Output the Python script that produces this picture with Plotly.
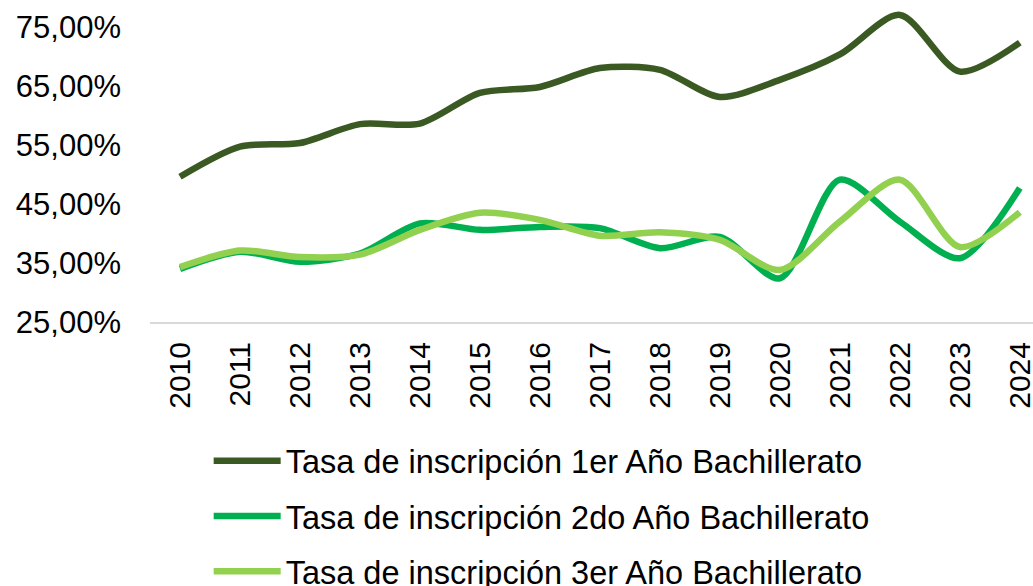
import plotly.graph_objects as go

years = [str(y) for y in range(2010, 2025)]
tasa_1er = [49.6, 54.7, 55.3, 58.5, 58.6, 63.8, 64.8, 68.0, 67.7, 63.1, 66.0, 70.3, 77.0, 67.4, 72.3]
tasa_2do = [34.0, 36.9, 35.2, 36.6, 41.7, 40.6, 41.1, 40.9, 37.5, 39.4, 32.4, 49.1, 42.0, 35.8, 47.7]
tasa_3er = [34.3, 37.1, 36.0, 36.4, 40.6, 43.5, 42.3, 39.6, 40.2, 38.9, 33.8, 42.0, 49.1, 37.7, 43.6]
names = ["Tasa de inscripción 1er Año Bachillerato",
         "Tasa de inscripción 2do Año Bachillerato",
         "Tasa de inscripción 3er Año Bachillerato"]
colors = ["#3B5A23", "#00B050", "#92D050"]
tick_vals = [25, 35, 45, 55, 65, 75]
tick_text = ["25,00%", "35,00%", "45,00%", "55,00%", "65,00%", "75,00%"]

FONT = "Liberation Sans, Arial, sans-serif"
fig = go.Figure()
for i, (vals, name, col) in enumerate(zip([tasa_1er, tasa_2do, tasa_3er], names, colors)):
    fig.add_trace(go.Scatter(
        x=years, y=vals, name=name, mode="lines",
        line=dict(color=col, width=6.5, shape="spline", smoothing=0.8),
        legendgroup=f"g{i}",
    ))

fig.update_layout(
    width=1033, height=586,
    margin=dict(l=150, r=0, t=9, b=264, autoexpand=False),
    plot_bgcolor="white", paper_bgcolor="white",
    font=dict(family=FONT, size=30, color="black"),
    showlegend=True,
    legend=dict(
        xref="container", yref="container",
        x=0.202, y=0.261, xanchor="left", yanchor="top",
        font=dict(family=FONT, size=32.5, color="black"),
        tracegroupgap=10,
        itemwidth=67,
        bgcolor="rgba(0,0,0,0)",
    ),
    xaxis=dict(
        type="category",
        range=[-0.5, 14.22],
        showgrid=False, zeroline=False,
        showline=True, linecolor="#D9D9D9", linewidth=2,
        ticks="", tickangle=-90,
        ticklabelstandoff=6,
        tickfont=dict(family=FONT, size=30, color="black"),
    ),
    yaxis=dict(
        range=[25, 78],
        showgrid=False, zeroline=False, showline=False,
        tickvals=tick_vals, ticktext=tick_text,
        ticks="", ticklabelstandoff=28,
        tickfont=dict(family=FONT, size=31, color="black"),
    ),
)

fig.write_html("out.html", config={"displayModeBar": False},
               post_script="document.body.style.margin='0';document.body.style.overflow='hidden';")
